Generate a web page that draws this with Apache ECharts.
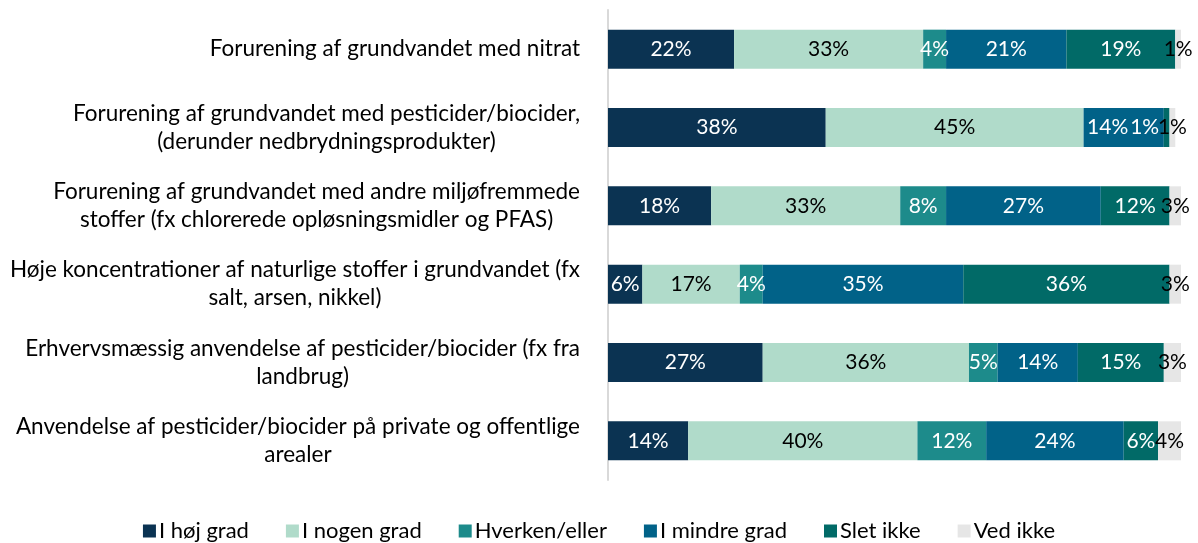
<!DOCTYPE html>
<html>
<head>
<meta charset="utf-8">
<script src="https://cdn.jsdelivr.net/npm/echarts@6/dist/echarts.min.js"></script>
<style>
  html, body { margin: 0; padding: 0; background: #fff; }
  #chart { width: 1198px; height: 543px; }
</style>
</head>
<body>
<div id="chart"></div>
<script>
var categories = [
    'Forurening af grundvandet med nitrat',
    'Forurening af grundvandet med pesticider/biocider,\n(derunder nedbrydningsprodukter)',
    'Forurening af grundvandet med andre miljøfremmede\nstoffer (fx chlorerede opløsningsmidler og PFAS)',
    'Høje koncentrationer af naturlige stoffer i grundvandet (fx\nsalt, arsen, nikkel)',
    'Erhvervsmæssig anvendelse af pesticider/biocider (fx fra\nlandbrug)',
    'Anvendelse af pesticider/biocider på private og offentlige\narealer'
];

// en række pr. kategori, i samme rækkefølge som ovenfor
var hojGrad    = [22, 38, 18, 6, 27, 14];
var nogenGrad  = [33, 45, 33, 17, 36, 40];
var hverken    = [4, 0, 8, 4, 5, 12];
var mindreGrad = [21, 14, 27, 35, 14, 24];
var sletIkke   = [19, 1, 12, 36, 15, 6];
var vedIkke    = [1, 1, 3, 3, 3, 4];

var serier = [
    { navn: 'I høj grad',    data: hojGrad,    farve: '#0b3352', tekst: '#fff' },
    { navn: 'I nogen grad',  data: nogenGrad,  farve: '#b0dbca', tekst: '#000' },
    { navn: 'Hverken/eller', data: hverken,    farve: '#1d8b8b', tekst: '#fff' },
    { navn: 'I mindre grad', data: mindreGrad, farve: '#016288', tekst: '#fff' },
    { navn: 'Slet ikke',     data: sletIkke,   farve: '#016a67', tekst: '#fff' },
    { navn: 'Ved ikke',      data: vedIkke,    farve: '#e6e6e6', tekst: '#000' }
];

// række 2 har meget smalle segmenter, så etiketterne rykkes lidt til venstre
var etiketForskydning = { 'I mindre grad': -16, 'Slet ikke': -22 };

var font = 'Lato';

var chart = echarts.init(document.getElementById('chart'));

var series = serier.map(function (s) {
    return {
        name: s.navn,
        type: 'bar',
        stack: 'total',
        barWidth: 39,
        itemStyle: { color: s.farve },
        label: {
            show: true,
            position: 'inside',
            color: s.tekst,
            fontFamily: font,
            fontSize: 21,
            formatter: function (p) {
                return p.value > 0 ? p.value + '%' : '';
            }
        },
        data: s.data.map(function (v, i) {
            if (i === 1 && etiketForskydning[s.navn]) {
                return { value: v, label: { offset: [etiketForskydning[s.navn], 0] } };
            }
            return v;
        })
    };
});

var option = {
    animation: false,
    grid: { left: 608, right: 17, top: 10, bottom: 63 },
    xAxis: {
        type: 'value',
        min: 0,
        max: 100,
        show: false
    },
    yAxis: {
        type: 'category',
        inverse: true,
        data: categories,
        axisLine: { show: true, lineStyle: { color: '#d9d9d9', width: 2 } },
        axisTick: { show: false },
        axisLabel: {
            margin: 28,
            align: 'right',
            formatter: function (v) {
                return v.split('\n').map(function (l) { return '{a|' + l + '}'; }).join('\n');
            },
            rich: {
                a: {
                    align: 'center',
                    fontFamily: font,
                    fontSize: 22.5,
                    lineHeight: 28,
                    color: '#000'
                }
            }
        }
    },
    legend: {
        bottom: -4,
        left: 'center',
        icon: 'rect',
        itemWidth: 13,
        itemHeight: 13,
        itemGap: 37,
        textStyle: { fontFamily: font, fontSize: 22, color: '#000', padding: [0, 0, 0, -2] },
        data: serier.map(function (s) { return s.navn; })
    },
    series: series
};

chart.setOption(option);
</script>
</body>
</html>
